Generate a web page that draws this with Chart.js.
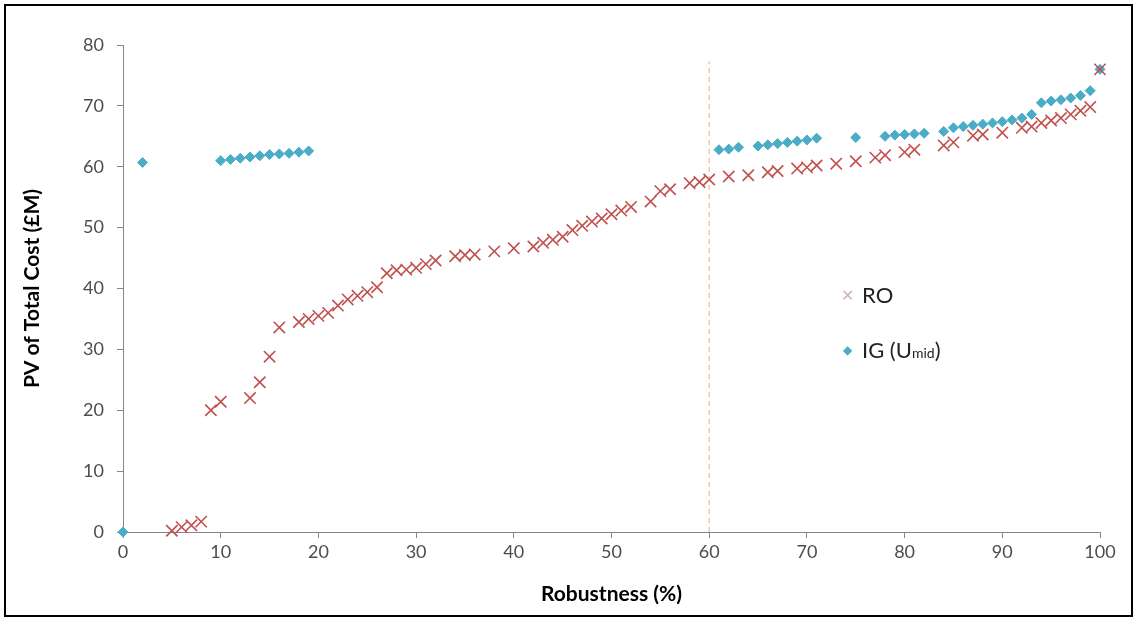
<!DOCTYPE html>
<html>
<head>
<meta charset="utf-8">
<script src="https://cdn.jsdelivr.net/npm/chart.js@4.4.1/dist/chart.umd.min.js"></script>
<style>
  body { margin: 0; background: #fff; }
  #wrap { position: relative; width: 1137px; height: 625px; }
  #frame { position: absolute; left: 4px; top: 4px; width: 1125px; height: 609px; border: 2px solid #000; pointer-events: none; }
  #legend { position: absolute; left: 832px; top: 267px; font-family: Lato, "Open Sans", sans-serif; font-size: 22px; color: #222; }
  #legend div { height: 55px; display: flex; align-items: center; }
  #legend .mk { width: 30px; display: inline-block; text-align: center; }
  #legend sub { font-size: 14px; position: relative; top: 3px; }
</style>
</head>
<body>
<div id="wrap">
  <canvas id="myChart" width="1137" height="625"></canvas>
  <div id="frame"></div>
  <div id="legend">
    <div><span class="mk" style="color:#cfb3b3;font-size:16px">&#x2715;</span>RO</div>
    <div><span class="mk" style="color:#4bacc6;font-size:12px">&#x25C6;</span>IG (U<sub>mid</sub>)</div>
  </div>
</div>
<script>
// RO results
var roX = [5,6,7,8,9,10,13,14,15,16,18,19,20,21,22,23,24,25,26,27,28,29,30,31,32,34,35,36,38,40,42,43,44,45,46,47,48,49,50,51,52,54,55,56,58,59,60,62,64,66,67,69,70,71,73,75,77,78,80,81,84,85,87,88,90,92,93,94,95,96,97,98,99,100];
var roY = [0.2,0.8,1.1,1.7,20,21.4,22,24.6,28.8,33.6,34.5,35,35.5,36,37.2,38.2,38.8,39.4,40.2,42.5,43,43.1,43.4,44,44.6,45.3,45.5,45.6,46.1,46.6,46.9,47.5,48,48.5,49.6,50.3,51,51.5,52.2,52.8,53.4,54.3,56,56.3,57.3,57.5,57.9,58.4,58.6,59.1,59.3,59.7,59.9,60.2,60.5,60.9,61.5,61.9,62.4,62.8,63.5,64,65.1,65.3,65.6,66.4,66.6,67.2,67.6,68,68.6,69.2,69.8,76];

// IG (U_mid) results
var igX = [0,2,10,11,12,13,14,15,16,17,18,19,61,62,63,65,66,67,68,69,70,71,75,78,79,80,81,82,84,85,86,87,88,89,90,91,92,93,94,95,96,97,98,99,100];
var igY = [0,60.7,61.0,61.2,61.4,61.6,61.8,62.0,62.1,62.2,62.4,62.6,62.8,62.9,63.2,63.4,63.6,63.8,64,64.2,64.4,64.7,64.8,65,65.2,65.3,65.4,65.5,65.8,66.4,66.6,66.8,67,67.2,67.4,67.7,68,68.6,70.5,70.8,71,71.3,71.7,72.5,76];

// dashed marker line at 60% robustness
var markX = [60, 60];
var markY = [0, 77.3];

var xTicks = [0,10,20,30,40,50,60,70,80,90,100];
var yTicks = [0,10,20,30,40,50,60,70,80];

function toPoints(xs, ys) {
    return xs.map(function(x, i) { return { x: x, y: ys[i] }; });
}

var axisGray = '#868686';
var font = 'Lato, "Open Sans", sans-serif';

var ctx = document.getElementById('myChart').getContext('2d');
var myChart = new Chart(ctx, {
    type: 'scatter',
    data: {
        datasets: [{
            label: 'RO',
            data: toPoints(roX, roY),
            pointStyle: 'crossRot',
            pointRadius: 8,
            pointBorderWidth: 1.6,
            borderColor: '#c0504d',
            backgroundColor: '#c0504d',
            clip: false
        }, {
            label: 'IG (Umid)',
            data: toPoints(igX, igY),
            pointStyle: 'rectRot',
            pointRadius: 5,
            pointBorderWidth: 1,
            borderColor: '#4bacc6',
            backgroundColor: '#4bacc6',
            clip: false
        }, {
            label: 'marker',
            data: toPoints(markX, markY),
            showLine: true,
            pointRadius: 0,
            borderColor: '#f5b888',
            borderWidth: 1.2,
            borderDash: [5, 4]
        }]
    },
    options: {
        responsive: false,
        animation: false,
        layout: { padding: { left: 20, right: 37, top: 45, bottom: 18 } },
        plugins: {
            legend: { display: false },
            tooltip: { enabled: false }
        },
        scales: {
            x: {
                type: 'linear',
                min: 0,
                max: 100,
                afterFit: function(scale) { scale.height = 75; },
                afterBuildTicks: function(scale) { scale.ticks = xTicks.map(function(v) { return { value: v }; }); },
                grid: { drawOnChartArea: false, drawTicks: true, tickLength: 6, color: axisGray },
                border: { color: axisGray, width: 1 },
                ticks: { color: '#4d4d4d', font: { family: font, size: 18 }, padding: 3 },
                title: { display: true, text: 'Robustness (%)', color: '#000', font: { family: font, size: 21, weight: 'bold' }, padding: { top: 0, bottom: 0 } }
            },
            y: {
                min: 0,
                max: 80,
                afterFit: function(scale) { scale.width = 103; },
                afterBuildTicks: function(scale) { scale.ticks = yTicks.map(function(v) { return { value: v }; }); },
                grid: { drawOnChartArea: false, drawTicks: true, tickLength: 6, color: axisGray },
                border: { color: axisGray, width: 1 },
                ticks: { color: '#4d4d4d', font: { family: font, size: 18 }, padding: 13 },
                title: { display: true, text: 'PV of Total Cost (£M)', color: '#000', font: { family: font, size: 21, weight: 'bold' }, padding: { top: 0, bottom: 4 } }
            }
        }
    }
});
</script>
</body>
</html>
